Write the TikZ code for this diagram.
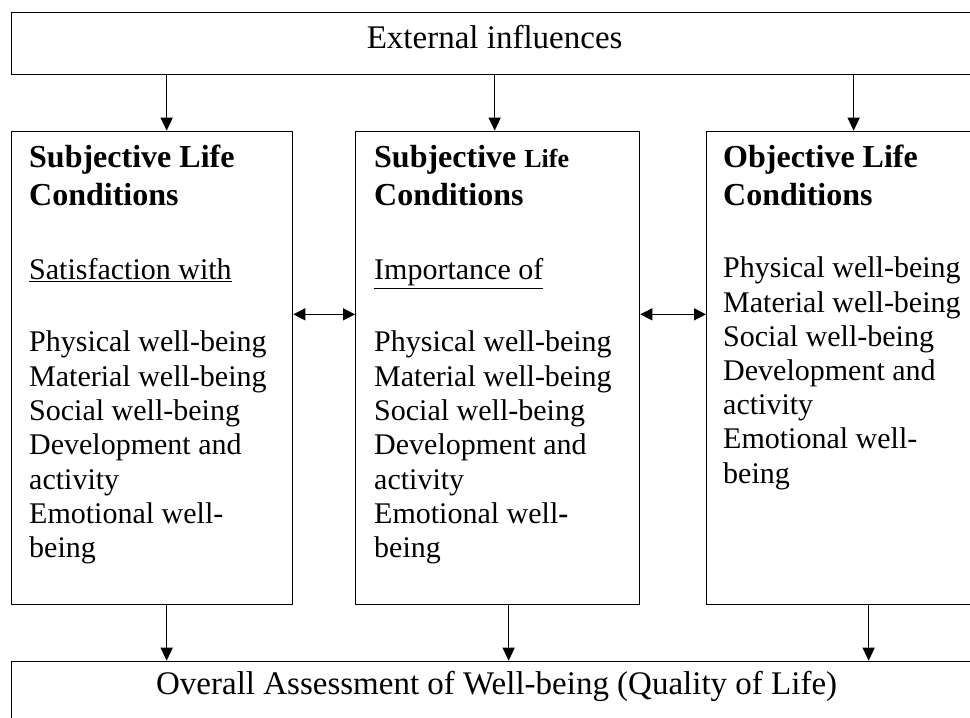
\documentclass[tikz,border=0pt]{standalone}
\usepackage{fontspec}
\setmainfont{Liberation Serif}
\usetikzlibrary{arrows.meta}

\begin{document}
\begin{tikzpicture}[x=1pt,y=1pt,
  box/.style={draw, line width=1.3pt, inner sep=0pt, anchor=south west},
  arr/.style={line width=1.3pt, -{Triangle[length=13pt,width=12pt]}},
  darr/.style={line width=1.3pt, {Triangle[length=12pt,width=12pt]}-{Triangle[length=12pt,width=12pt]}},
  head/.style={anchor=base west, inner sep=0pt, font=\fontsize{32}{38}\selectfont\bfseries},
  item/.style={anchor=base west, inner sep=0pt, font=\fontsize{30}{34}\selectfont},
  title/.style={anchor=base, inner sep=0pt, font=\fontsize{33}{38}\selectfont}]
 \useasboundingbox (0,0) rectangle (970,718);
 \node[box, minimum width=966pt, minimum height=62pt] (ext) at (11,643) {};
 \node[box, minimum width=281pt, minimum height=473pt] (subj) at (11,113) {};
 \node[box, minimum width=284pt, minimum height=473pt] (imp) at (355,113) {};
 \node[box, minimum width=294pt, minimum height=473pt] (obj) at (706,113) {};
 \node[box, minimum width=970pt, minimum height=68pt] (assess) at (11,-12) {};
 \node[title] (exttxt) at ([yshift=-5pt]ext.center) {External influences};
 \node[title] (assesstxt) at ([yshift=1pt]assess.center) {Overall Assessment of Well-being (Quality of Life)};
 % left column
 \node[head] (subjh1) at (29,550) {Subjective Life};
 \node[head] (subjh2) at (29,512) {Conditions};
 \node[item] (subjsat) at (29,438) {\underline{Satisfaction with}};
 \foreach \t [count=\i] in {Physical well-being,Material well-being,Social well-being,Development and,activity,Emotional well-,being}
  \node[item] (sat\i) at (29,400.3-34.3*\i) {\t};
 % middle column
 \node[head] (imph1) at (374,550) {Subjective {\fontsize{26}{30}\selectfont Life}};
 \node[head] (imph2) at (374,512) {Conditions};
 \node[item] (impimp) at (374,438) {\underline{Importance of}};
 \foreach \t [count=\i] in {Physical well-being,Material well-being,Social well-being,Development and,activity,Emotional well\textbf{-},being}
  \node[item] (imp\i) at (374,400.3-34.3*\i) {\t};
 % right column
 \node[head] (objh1) at (723,550) {Objective Life};
 \node[head] (objh2) at (723,512) {Conditions};
 \foreach \t [count=\i] in {Physical well-being,Material well-being,Social well-being,Development and,activity,Emotional well-,being}
  \node[item] (obj\i) at (723,474.2-34.2*\i) {\t};
 % arrows
 \draw[arr] ([xshift=14.5pt]subj.north |- ext.south) -- ([xshift=14.5pt]subj.north);
 \draw[arr] ([xshift=-3pt]imp.north |- ext.south) -- ([xshift=-3pt]imp.north);
 \draw[arr] (obj.north |- ext.south) -- (obj.north);
 \draw[arr] ([xshift=14.5pt]subj.south) -- ([xshift=14.5pt]subj.south |- assess.north);
 \draw[arr] ([xshift=11pt]imp.south) -- ([xshift=11pt]imp.south |- assess.north);
 \draw[arr] ([xshift=15pt]obj.south) -- ([xshift=15pt]obj.south |- assess.north);
 \draw[darr] ([yshift=53.5pt]subj.east) -- ([yshift=53.5pt]imp.west);
 \draw[darr] ([yshift=53.5pt]imp.east) -- ([yshift=53.5pt]obj.west);
\end{tikzpicture}
\end{document}
